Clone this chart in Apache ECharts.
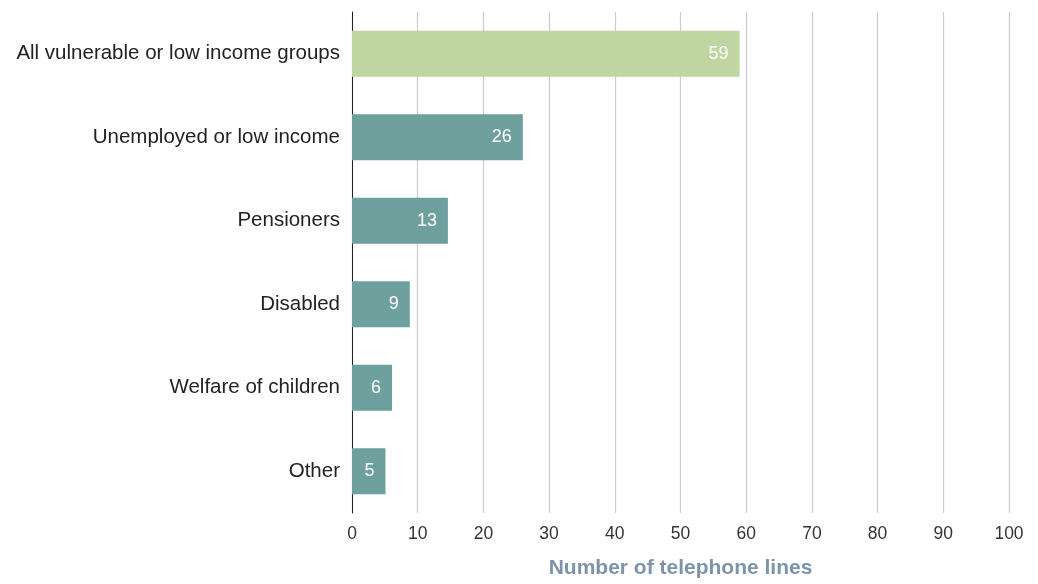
<!DOCTYPE html>
<html>
<head>
<meta charset="utf-8">
<script src="https://cdn.jsdelivr.net/npm/echarts@6/dist/echarts.min.js"></script>
<style>
html,body{margin:0;padding:0;background:#fff;}
#chart{width:1038px;height:584px;}
</style>
</head>
<body>
<div id="chart"></div>
<script>
const categories = ["All vulnerable or low income groups", "Unemployed or low income", "Pensioners", "Disabled", "Welfare of children", "Other"];
const values = [59, 26, 14.6, 8.8, 6.1, 5.1];
const valueLabels = ["59", "26", "13", "9", "6", "5"];
const barColors = ["#bfd6a2", "#6ea19e", "#6ea19e", "#6ea19e", "#6ea19e", "#6ea19e"];
const axisTitle = "Number of telephone lines";

const chart = echarts.init(document.getElementById('chart'), null, {renderer: 'canvas'});
const font = '"Liberation Sans", Arial, Helvetica, sans-serif';
chart.setOption({
  animation: false,
  backgroundColor: '#fff',
  textStyle: {fontFamily: font},
  grid: {left: 352, right: 29, top: 12, bottom: 67, containLabel: false},
  xAxis: {
    type: 'value', min: 0, max: 100, interval: 10,
    axisLine: {show: false},
    axisTick: {show: false},
    splitLine: {show: true, lineStyle: {color: '#cccccc', width: 1.2}},
    axisLabel: {color: '#333', fontSize: 17.5, fontFamily: font, margin: 12},
    name: axisTitle, nameLocation: 'middle', nameGap: 45,
    nameTextStyle: {color: '#7d93a8', fontSize: 21, fontWeight: 'bold', fontFamily: font}
  },
  yAxis: {
    type: 'category', data: categories, inverse: true,
    axisLine: {show: true, lineStyle: {color: '#222', width: 1}},
    axisTick: {show: false},
    splitLine: {show: false},
    axisLabel: {color: '#222', fontSize: 20.5, fontFamily: font, margin: 12}
  },
  series: [{
    type: 'bar',
    barWidth: 46,
    data: values.map((v, i) => ({value: v, itemStyle: {color: barColors[i]}, label: {formatter: valueLabels[i]}})),
    label: {show: true, position: 'insideRight', distance: 11, color: '#fff', fontSize: 18, fontFamily: font}
  }]
});
</script>
</body>
</html>
